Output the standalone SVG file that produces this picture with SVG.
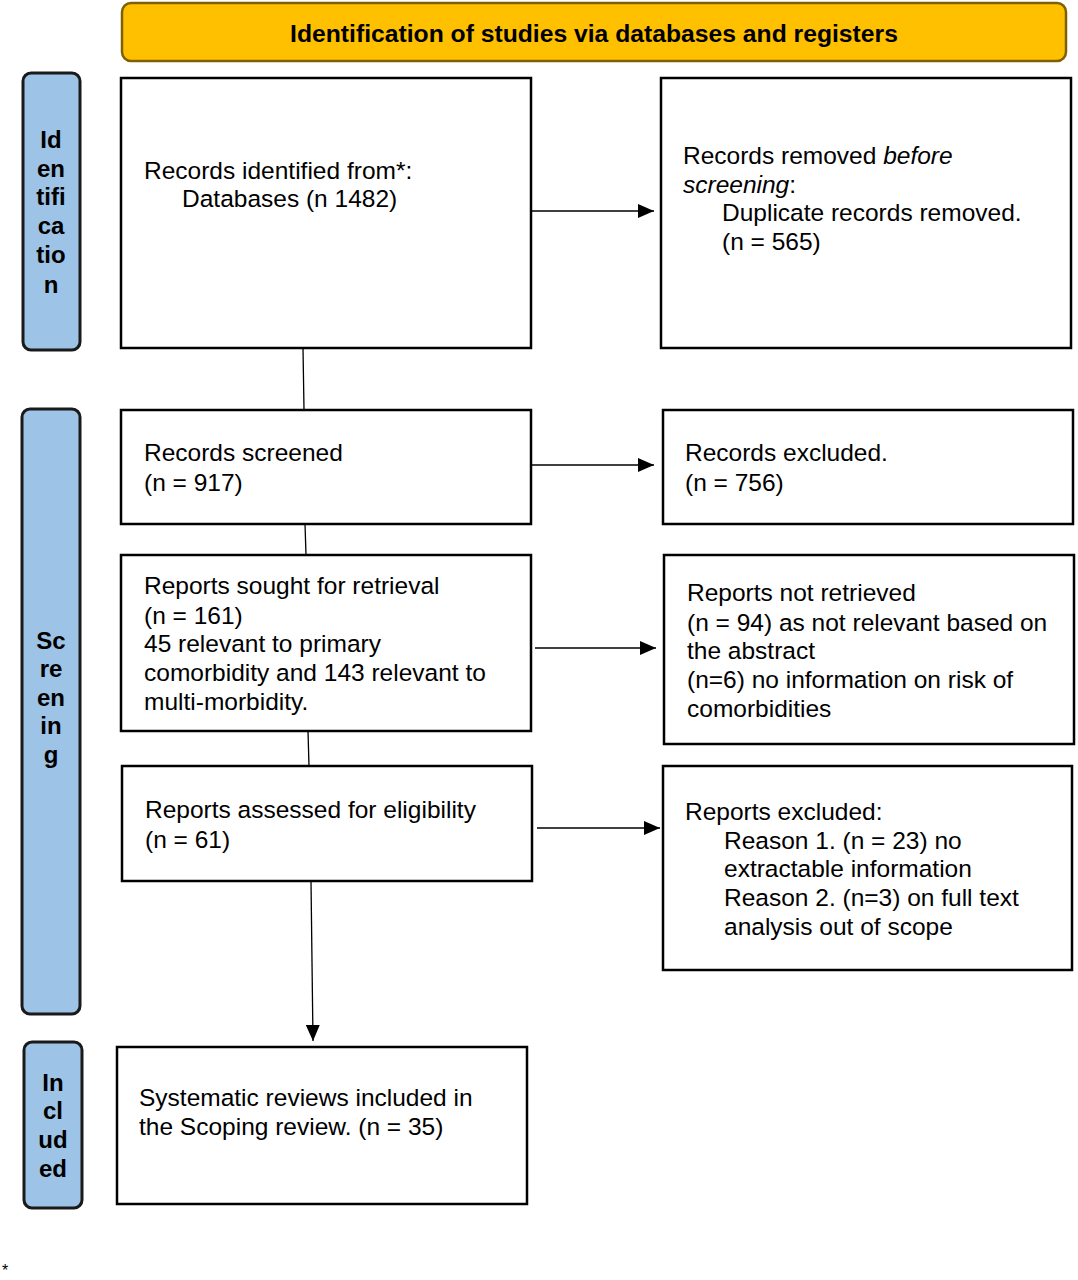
<svg xmlns="http://www.w3.org/2000/svg" width="1078" height="1280" viewBox="0 0 1078 1280">
<defs>
<style>
.box{fill:#fff;stroke:#000;stroke-width:2.5}
.side{fill:#9DC3E6;stroke:#1a1a1a;stroke-width:3}
.t{font-family:"Liberation Sans",Arial,sans-serif;font-size:24.5px;fill:#000}
.s{font-family:"Liberation Sans",Arial,sans-serif;font-size:24px;font-weight:bold;fill:#000;text-anchor:middle}
.c{stroke:#000;stroke-width:1.3;fill:none}
</style>
<marker id="ah" viewBox="0 0 16 14" refX="16" refY="7" markerWidth="16" markerHeight="14" markerUnits="userSpaceOnUse" orient="auto">
<path d="M0,0 L16,7 L0,14 Z" fill="#000"/>
</marker>
</defs>
<rect width="1078" height="1280" fill="#fff"/>

<g id="header">
<rect x="122" y="3" width="944" height="58" rx="9" fill="#FFC000" stroke="#7F6000" stroke-width="2.5"/>
<text x="594" y="42" class="s" style="font-size:24.7px">Identification of studies via databases and registers</text>
</g>

<g id="side-identification">
<rect x="23" y="73" width="57" height="277" rx="8" class="side"/>
<text class="s"><tspan x="51" y="148">Id</tspan><tspan x="51" y="177">en</tspan><tspan x="51" y="205">tifi</tspan><tspan x="51" y="234">ca</tspan><tspan x="51" y="263">tio</tspan><tspan x="51" y="293">n</tspan></text>
</g>
<g id="side-screening">
<rect x="22" y="409" width="58" height="605" rx="8" class="side"/>
<text class="s"><tspan x="51" y="649">Sc</tspan><tspan x="51" y="677">re</tspan><tspan x="51" y="706">en</tspan><tspan x="51" y="734">in</tspan><tspan x="51" y="763">g</tspan></text>
</g>
<g id="side-included">
<rect x="24" y="1042" width="58" height="166" rx="8" class="side"/>
<text class="s"><tspan x="53" y="1091">In</tspan><tspan x="53" y="1119">cl</tspan><tspan x="53" y="1148">ud</tspan><tspan x="53" y="1177">ed</tspan></text>
</g>

<g id="connectors">
<line x1="303" y1="348" x2="304" y2="410" class="c"/>
<line x1="531" y1="211" x2="654" y2="211" class="c" marker-end="url(#ah)"/>
<line x1="531" y1="465" x2="654" y2="465" class="c" marker-end="url(#ah)"/>
<line x1="305" y1="524" x2="306" y2="555" class="c"/>
<line x1="535" y1="648" x2="656" y2="648" class="c" marker-end="url(#ah)"/>
<line x1="308" y1="731" x2="309" y2="766" class="c"/>
<line x1="537" y1="828" x2="660" y2="828" class="c" marker-end="url(#ah)"/>
<line x1="311" y1="881" x2="313" y2="1041" class="c" marker-end="url(#ah)"/>
</g>

<g id="records-identified">
<rect x="121" y="78" width="410" height="270" class="box"/>
<text class="t"><tspan x="144" y="179">Records identified from*:</tspan><tspan x="182" y="207">Databases (n 1482)</tspan></text>
</g>
<g id="records-removed">
<rect x="661" y="78" width="410" height="270" class="box"/>
<text class="t"><tspan x="683" y="164">Records removed <tspan font-style="italic">before</tspan></tspan><tspan x="683" y="193"><tspan font-style="italic">screening</tspan>:</tspan><tspan x="722" y="221">Duplicate records removed.</tspan><tspan x="722" y="250">(n = 565)</tspan></text>
</g>
<g id="records-screened">
<rect x="121" y="410" width="410" height="114" class="box"/>
<text class="t"><tspan x="144" y="461">Records screened</tspan><tspan x="144" y="491">(n = 917)</tspan></text>
</g>
<g id="records-excluded">
<rect x="663" y="410" width="410" height="114" class="box"/>
<text class="t"><tspan x="685" y="461">Records excluded.</tspan><tspan x="685" y="491">(n = 756)</tspan></text>
</g>
<g id="reports-sought">
<rect x="121" y="555" width="410" height="176" class="box"/>
<text class="t"><tspan x="144" y="594">Reports sought for retrieval</tspan><tspan x="144" y="624">(n = 161)</tspan><tspan x="144" y="652">45 relevant to primary</tspan><tspan x="144" y="681">comorbidity and 143 relevant to</tspan><tspan x="144" y="710">multi-morbidity.</tspan></text>
</g>
<g id="reports-not-retrieved">
<rect x="664" y="555" width="410" height="189" class="box"/>
<text class="t"><tspan x="687" y="601">Reports not retrieved</tspan><tspan x="687" y="631">(n = 94) as not relevant based on</tspan><tspan x="687" y="659">the abstract</tspan><tspan x="687" y="688">(n=6) no information on risk of</tspan><tspan x="687" y="717">comorbidities</tspan></text>
</g>
<g id="reports-assessed">
<rect x="122" y="766" width="410" height="115" class="box"/>
<text class="t"><tspan x="145" y="818">Reports assessed for eligibility</tspan><tspan x="145" y="848">(n = 61)</tspan></text>
</g>
<g id="reports-excluded">
<rect x="663" y="766" width="409" height="204" class="box"/>
<text class="t"><tspan x="685" y="820">Reports excluded:</tspan><tspan x="724" y="849">Reason 1. (n = 23) no</tspan><tspan x="724" y="877">extractable information</tspan><tspan x="724" y="906">Reason 2. (n=3) on full text</tspan><tspan x="724" y="935">analysis out of scope</tspan></text>
</g>
<g id="included-reviews">
<rect x="117" y="1047" width="410" height="157" class="box"/>
<text class="t"><tspan x="139" y="1106">Systematic reviews included in</tspan><tspan x="139" y="1135">the Scoping review. (n = 35)</tspan></text>
</g>

<text x="2" y="1276" font-family="Liberation Sans, Arial, sans-serif" font-size="16" fill="#000">*</text>
</svg>
